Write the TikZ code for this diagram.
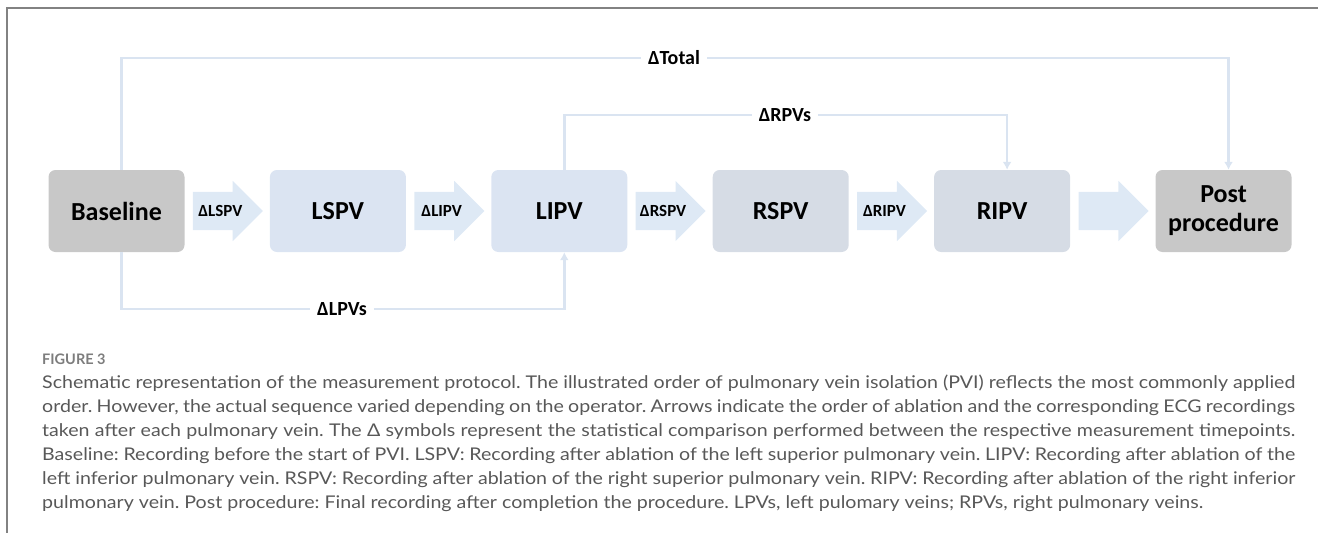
\documentclass[tikz,border=0pt]{standalone}
\usepackage{fontspec}
\setmainfont{Carlito}
\newfontfamily\capfont[FakeStretch=1.12]{Lato}
\newfontfamily\figfont{Lato}
\usetikzlibrary{positioning,shapes.arrows,arrows.meta}
\definecolor{boxgrey}{RGB}{200,200,200}
\definecolor{boxblue}{RGB}{219,228,242}
\definecolor{boxslate}{RGB}{214,220,229}
\definecolor{arrowblue}{RGB}{222,233,245}
\definecolor{linkblue}{RGB}{218,228,241}
\definecolor{framegrey}{RGB}{130,130,130}
\definecolor{capgrey}{RGB}{88,88,88}
\definecolor{figgrey}{RGB}{125,125,125}
\tikzstyle{stage} = [rectangle, rounded corners=7pt, minimum width=136pt, minimum height=82pt, align=center, font=\fontsize{26}{29}\selectfont\bfseries]
\tikzstyle{flowarrow} = [single arrow, fill=arrowblue, minimum height=70pt, single arrow head extend=11pt, inner xsep=0pt, inner ysep=19pt]
\tikzstyle{delta} = [fill=white, inner xsep=7pt, inner ysep=2pt, font=\fontsize{20}{20}\selectfont\bfseries]
\tikzstyle{link} = [draw=linkblue, line width=2.5pt]
\tikzstyle{arrow} = [link, -{Latex[length=8pt,width=9pt]}]
\tikzset{arrowlabel/.style={label={[xshift=2pt, font=\fontsize{17}{17}\selectfont\bfseries]center:#1}}}

\begin{document}
\begin{tikzpicture}[x=1pt, y=-1pt]
\useasboundingbox (0,0) rectangle (1318,533);
\draw[framegrey, line width=1.2pt] (7,533) -- (7,8) -- (1318,8);

% recording timepoints
\node[stage, fill=boxgrey] (base) at (116.5,211) {Baseline};
\node[stage, fill=boxblue, right=85pt of base] (lspv) {LSPV};
\node[stage, fill=boxblue, right=85pt of lspv] (lipv) {LIPV};
\node[stage, fill=boxslate, right=85pt of lipv] (rspv) {RSPV};
\node[stage, fill=boxslate, right=85pt of rspv] (ripv) {RIPV};
\node[stage, fill=boxgrey, right=85pt of ripv] (post) {Post\\procedure};

% ablation order
\node[flowarrow, arrowlabel=ΔLSPV, right=8pt of base] (a1) {};
\node[flowarrow, arrowlabel=ΔLIPV, right=8pt of lspv] (a2) {};
\node[flowarrow, arrowlabel=ΔRSPV, right=8pt of lipv] (a3) {};
\node[flowarrow, arrowlabel=ΔRIPV, right=8pt of rspv] (a4) {};
\node[flowarrow, right=8pt of ripv] (a5) {};

% comparisons
\node[delta] (dtot) at (674,58) {ΔTotal};
\node[delta] (drpv) at (785,115) {ΔRPVs};
\node[delta] (dlpv) at (342,309) {ΔLPVs};
\draw[link] ([xshift=5pt]base.north) |- (dtot.west);
\draw[arrow] (dtot.east) -| ([xshift=5pt]post.north);
\draw[link] ([xshift=5pt]lipv.north) |- (drpv.west);
\draw[arrow] (drpv.east) -| ([xshift=5pt]ripv.north);
\draw[link] ([xshift=5pt]base.south) |- (dlpv.west);
\draw[arrow] (dlpv.east) -| ([xshift=5pt]lipv.south);

% caption
\node[anchor=base west, inner sep=0pt, text=figgrey, font=\figfont\bfseries\fontsize{14.5}{16}\selectfont] (fig) at (42,364) {FIGURE 3};
\node[anchor=north west, inner sep=0pt, text width=1253pt, align=justify, text=capgrey,
  font=\capfont\fontsize{17.5}{24}\selectfont] (caption) at (42,375)
{\frenchspacing\tolerance=9999 \emergencystretch=20pt\relax
Schematic representation of the measurement protocol. The illustrated order of pulmonary vein isolation (PVI) reflects the most commonly applied\linebreak
order. However, the actual sequence varied depending on the operator. Arrows indicate the order of ablation and the corresponding ECG recordings\linebreak
taken after each pulmonary vein. The Δ symbols represent the statistical comparison performed between the respective measurement timepoints.\linebreak
Baseline: Recording before the start of PVI. LSPV: Recording after ablation of the left superior pulmonary vein. LIPV: Recording after ablation of the\linebreak
left inferior pulmonary vein. RSPV: Recording after ablation of the right superior pulmonary vein. RIPV: Recording after ablation of the right inferior\linebreak
pulmonary vein. Post procedure: Final recording after completion the procedure. LPVs, left pulomary veins; RPVs, right pulmonary veins.};
\end{tikzpicture}
\end{document}
